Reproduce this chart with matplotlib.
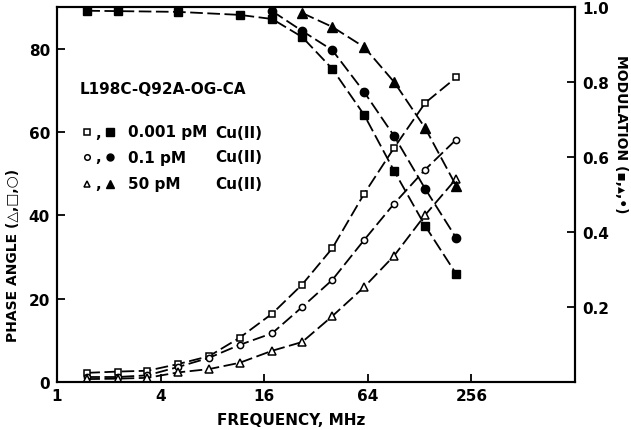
import matplotlib
matplotlib.use("Agg")
from matplotlib import pyplot as plt

plt.rcParams['font.family'] = ['DejaVu Sans']
plt.rcParams['font.weight'] = 'bold'

# frequencies, MHz
freq = [1.5, 2.25, 3.35, 5.05, 7.65, 11.5, 17.8, 26.6, 39.8, 61, 91, 138, 209]

# phase angles (degrees), open symbols
phase_sq = [2.2, 2.5, 2.7, 4.3, 6.2, 10.6, 16.4, 23.4, 32.1, 45.2, 56.2, 67.0, 73.1]
phase_ci = [1.2, 1.2, 1.6, 3.6, 5.8, 8.9, 11.7, 18.0, 24.5, 34.1, 42.8, 51.0, 58.2]
phase_tr = [0.7, 0.8, 1.0, 2.3, 3.1, 4.6, 7.5, 9.6, 15.8, 22.8, 30.3, 40.1, 48.8]

# modulation, closed symbols
mod_sq_f = [1.5, 2.25, 5.05, 11.5, 17.8, 26.6, 39.8, 61, 91, 138, 209]
mod_sq = [0.99, 0.989, 0.987, 0.979, 0.968, 0.92, 0.835, 0.712, 0.563, 0.416, 0.288]
mod_ci_f = [17.8, 26.6, 39.8, 61, 91, 138, 209]
mod_ci = [0.989, 0.936, 0.885, 0.773, 0.656, 0.515, 0.384]
mod_tr_f = [26.6, 39.8, 61, 91, 138, 209]
mod_tr = [0.984, 0.947, 0.893, 0.80, 0.677, 0.523]

legend_conc = ['0.001 pM', '0.1 pM', '50 pM']

fig = plt.figure(figsize=(6.31, 4.31), dpi=100)
ax = fig.add_axes([57/631, 48/431, 518/631, 375/431])
ax2 = ax.twinx()

dash = (0, (7, 2.5))
lw = 1.3

for y, m, ms in [(phase_sq, 's', 5), (phase_ci, 'o', 4.5), (phase_tr, '^', 5.5)]:
    ax.plot(freq, y, color='black', lw=lw, linestyle=dash)
    ax.plot(freq, y, m, ms=ms, mfc='white', mec='black', mew=1.1, linestyle='none')

for f, y, m, ms in [(mod_sq_f, mod_sq, 's', 6), (mod_ci_f, mod_ci, 'o', 6),
                    (mod_tr_f, mod_tr, '^', 7)]:
    ax2.plot(f, y, color='black', lw=lw, linestyle=dash)
    ax2.plot(f, y, m, ms=ms, color='black', linestyle='none')

ax.set_xscale('log', base=2)
ax.set_xlim(1, 1024)
ax.set_xticks([1, 4, 16, 64, 256])
ax.set_xticklabels(['1', '4', '16', '64', '256'])
ax.minorticks_off()
ax.set_ylim(0, 90)
ax.set_yticks([0, 20, 40, 60, 80])
ax2.set_ylim(0, 1.0)
ax2.set_yticks([0.2, 0.4, 0.6, 0.8, 1.0])
ax2.set_yticklabels(['0.2', '0.4', '0.6', '0.8', '1.0'])

for a in (ax, ax2):
    a.tick_params(direction='in', length=6, width=1.3, labelsize=11)
    for s in a.spines.values():
        s.set_linewidth(1.5)
ax.tick_params(axis='x', pad=4)
ax.tick_params(axis='y', pad=5)
ax2.tick_params(axis='y', pad=5)

fig.text(291/631, 1 - 421/431, 'FREQUENCY, MHz', ha='center', va='center', fontsize=11)
fig.text(13/631, 1 - 255/431, 'PHASE ANGLE (\u25b3,\u25a1,\u25cb)', rotation=90,
         ha='center', va='center', fontsize=10)
fig.text(621/631, 1 - 134/431, 'MODULATION (\u25aa,\u25b4,\u2022)', rotation=-90,
         ha='center', va='center', fontsize=10)

ax.text((80 - 57)/518, (383 - 89)/375, 'L198C-Q92A-OG-CA', transform=ax.transAxes,
        ha='left', va='center', fontsize=11)

legend_rows = [('s', 133, 4.5, 5.5), ('o', 158, 4, 5), ('^', 185, 5, 6)]
for (m, yp, ms_o, ms_c), lab in zip(legend_rows, legend_conc):
    yy = (383 - yp)/375
    ax.plot([(87 - 57)/518], [yy], m, ms=ms_o, mfc='white', mec='black', mew=1.1,
            transform=ax.transAxes, clip_on=False)
    ax.text((98 - 57)/518, yy, ',', transform=ax.transAxes, ha='center', va='center', fontsize=11)
    ax.plot([(110 - 57)/518], [yy], m, ms=ms_c, color='black',
            transform=ax.transAxes, clip_on=False)
    ax.text((128 - 57)/518, yy, lab, transform=ax.transAxes, ha='left', va='center', fontsize=11)
    ax.text((215 - 57)/518, yy, 'Cu(II)', transform=ax.transAxes, ha='left', va='center', fontsize=11)

fig.savefig('out.png', dpi=100)
